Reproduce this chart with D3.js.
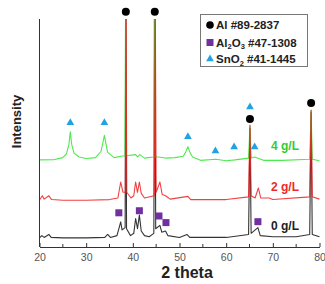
<!DOCTYPE html>
<html>
<head>
<meta charset="utf-8">
<script src="https://cdn.jsdelivr.net/npm/d3@7"></script>
<style>
  html, body { margin: 0; padding: 0; background: #fff; }
  svg { display: block; font-family: "Liberation Sans", Arial, sans-serif; }
</style>
</head>
<body>
<svg id="chart" width="325" height="284"></svg>
<script>
// 2-theta / intensity points, one list per sample
const pattern0 = [
  [20,40],[20.5,50],[21,42],[22,55],[22.5,42],[25,40],[30,40],[34,42],[34.6,55],[35.2,42],
  [36.6,50],[37.2,95],[37.4,110],[37.7,75],[38.35,85],[38.5,1100],[38.65,80],[39.5,50],[40.2,60],
  [40.6,125],[41.0,80],[41.4,140],[41.8,70],[42.5,50],[43.5,45],[44.5,60],[44.7,1100],[44.9,80],
  [45.8,95],[46.2,65],[47.0,70],[47.5,50],[50,42],[51.6,55],[52.2,42],[55,42],[60,42],[64.8,55],
  [65.1,520],[65.35,60],[66.8,85],[67.3,50],[70,45],[75,45],[77.9,55],[78.2,590],[78.45,55],[80,45]
];
const pattern2 = [
  [20,206],[20.6,225],[21,210],[22,225],[22.6,208],[25,205],[30,205],[35,208],[36.8,215],
  [37.4,285],[37.9,240],[38.4,240],[38.55,1100],[38.7,240],[39.6,215],[40.2,225],[40.6,285],[41.0,240],
  [41.4,285],[41.8,235],[42.5,215],[44.6,225],[44.8,1100],[45.0,240],[45.8,285],[46.3,230],
  [47,225],[48,210],[51.8,222],[52.4,208],[60,208],[64.8,220],[65.1,535],[65.35,225],[66.2,215],
  [66.9,259],[67.4,215],[69.2,215],[70,208],[77.9,220],[78.2,600],[78.45,220],[80,210]
];
const pattern4 = [
  [20,382],[23,383],[25,392],[25.8,410],[26.3,450],[26.6,505],[26.9,450],[27.4,412],[28.5,395],
  [30,388],[32,392],[33.2,420],[33.9,490],[34.6,415],[36,392],[37.5,398],[38.3,400],[38.45,1100],
  [38.6,400],[40.6,405],[41,395],[41.5,405],[42.5,390],[44.45,395],[44.6,1100],[44.75,395],[45.5,395],
  [47,390],[49,392],[50.8,398],[51.3,415],[51.8,440],[52.3,412],[52.8,395],[54.5,380],[57.8,385],
  [60,378],[61.9,382],[64.8,390],[65.1,530],[65.35,390],[66.1,395],[68,380],[72,380],[77.9,385],
  [78.2,601],[78.45,385],[80,378]
];

// phase markers: [2 theta, intensity level]
const alPeaks    = [[38.5,1032],[44.7,1032],[65.1,561],[78.2,632]];
const al2o3Peaks = [[37.0,150],[41.4,159],[45.6,136],[47.1,107],[66.8,111]];
const sno2Peaks  = [[26.6,545],[33.9,545],[51.8,484],[57.7,421],[61.7,439],[66.1,439],[65.1,614]];

const sampleNames  = ["0 g/L", "2 g/L", "4 g/L"];
const sampleLevels = [[69.6,92],[69.6,263],[69.6,443]];
const xTicks = [20, 30, 40, 50, 60, 70, 80];

const svg = d3.select("#chart");
const x = d3.scaleLinear().domain([20, 80]).range([39.5, 319.5]);
const y = d3.scaleLinear().domain([0, 1000]).range([247, 19]);

svg.append("clipPath").attr("id", "plotClip")
  .append("rect").attr("x", 39).attr("y", 19).attr("width", 285).attr("height", 230);

// traces
const line = d3.line().x(d => x(d[0])).y(d => y(d[1]));
const traces = [
  { data: pattern0, color: "#111" },
  { data: pattern4, color: "#2ee62e" },
  { data: pattern2, color: "#f01e1e" }
];
const traceGroup = svg.append("g").attr("clip-path", "url(#plotClip)");
traces.forEach(t => {
  traceGroup.append("path")
    .datum(t.data)
    .attr("d", line)
    .attr("fill", "none")
    .attr("stroke", t.color)
    .attr("stroke-width", 1.1)
    .attr("stroke-opacity", 0.85)
    .attr("stroke-linejoin", "round");
});

// axes
const xAxis = d3.axisBottom(x).tickValues(xTicks).tickSize(-4).tickSizeOuter(0).tickPadding(7);
const gx = svg.append("g").attr("transform", "translate(0,247)").call(xAxis);
gx.select(".domain").attr("stroke", "#333");
gx.selectAll(".tick line").attr("stroke", "#333");
gx.selectAll(".tick text").attr("fill", "#555").attr("font-size", 10.5);
gx.selectAll(".minor").data([25, 35, 45, 55, 65, 75]).enter().append("line")
  .attr("x1", d => x(d)).attr("x2", d => x(d)).attr("y1", 0).attr("y2", -3)
  .attr("stroke", "#333");

svg.append("line")
  .attr("x1", x(20)).attr("x2", x(20)).attr("y1", 19).attr("y2", 247)
  .attr("stroke", "#333");

svg.append("text").attr("x", 187).attr("y", 278)
  .attr("text-anchor", "middle").attr("font-size", 16).attr("font-weight", "bold")
  .attr("fill", "#222").text("2 theta");
svg.append("text").attr("transform", "translate(21,121.5) rotate(-90)")
  .attr("text-anchor", "middle").attr("font-size", 13).attr("font-weight", "bold")
  .attr("fill", "#222").text("Intensity");

// phase markers
svg.selectAll(".al").data(alPeaks).enter().append("circle")
  .attr("cx", d => x(d[0])).attr("cy", d => y(d[1])).attr("r", 4).attr("fill", "#000");
svg.selectAll(".al2o3").data(al2o3Peaks).enter().append("rect")
  .attr("x", d => x(d[0]) - 3.5).attr("y", d => y(d[1]) - 3.5)
  .attr("width", 7).attr("height", 7).attr("fill", "#7030a0");
const tri = d3.symbol().type(d3.symbolTriangle).size(26);
svg.selectAll(".sno2").data(sno2Peaks).enter().append("path")
  .attr("d", tri).attr("transform", d => `translate(${x(d[0])},${y(d[1])})`)
  .attr("fill", "#21a3e3");

// sample labels
const labelColors = ["#222", "#ee2a2a", "#33cc33"];
svg.selectAll(".sample").data(sampleNames).enter().append("text")
  .attr("x", (d, i) => x(sampleLevels[i][0])).attr("y", (d, i) => y(sampleLevels[i][1]))
  .attr("dy", "0.35em").attr("font-size", 12).attr("font-weight", "bold")
  .attr("fill", (d, i) => labelColors[i]).text(d => d);

// legend
const legend = svg.append("g");
legend.append("rect").attr("x", 200.5).attr("y", 14.5).attr("width", 107).attr("height", 52)
  .attr("fill", "#fff").attr("stroke", "#777");
legend.append("circle").attr("cx", 210).attr("cy", 25).attr("r", 3.8).attr("fill", "#000");
legend.append("rect").attr("x", 206.5).attr("y", 39).attr("width", 7).attr("height", 7).attr("fill", "#7030a0");
legend.append("path").attr("d", tri).attr("transform", "translate(210,59)").attr("fill", "#21a3e3");
const legendText = legend.append("g").attr("font-size", 11.5).attr("font-weight", "bold").attr("fill", "#222");
legendText.append("text").attr("x", 216).attr("y", 29).text("Al #89-2837");
const t2 = legendText.append("text").attr("x", 216).attr("y", 46.5);
t2.append("tspan").text("Al");
t2.append("tspan").attr("font-size", 7.5).attr("dy", 2.5).text("2");
t2.append("tspan").attr("dy", -2.5).text("O");
t2.append("tspan").attr("font-size", 7.5).attr("dy", 2.5).text("3");
t2.append("tspan").attr("dy", -2.5).text(" #47-1308");
const t3 = legendText.append("text").attr("x", 216).attr("y", 63);
t3.append("tspan").text("SnO");
t3.append("tspan").attr("font-size", 7.5).attr("dy", 2.5).text("2");
t3.append("tspan").attr("dy", -2.5).text(" #41-1445");
</script>
</body>
</html>
